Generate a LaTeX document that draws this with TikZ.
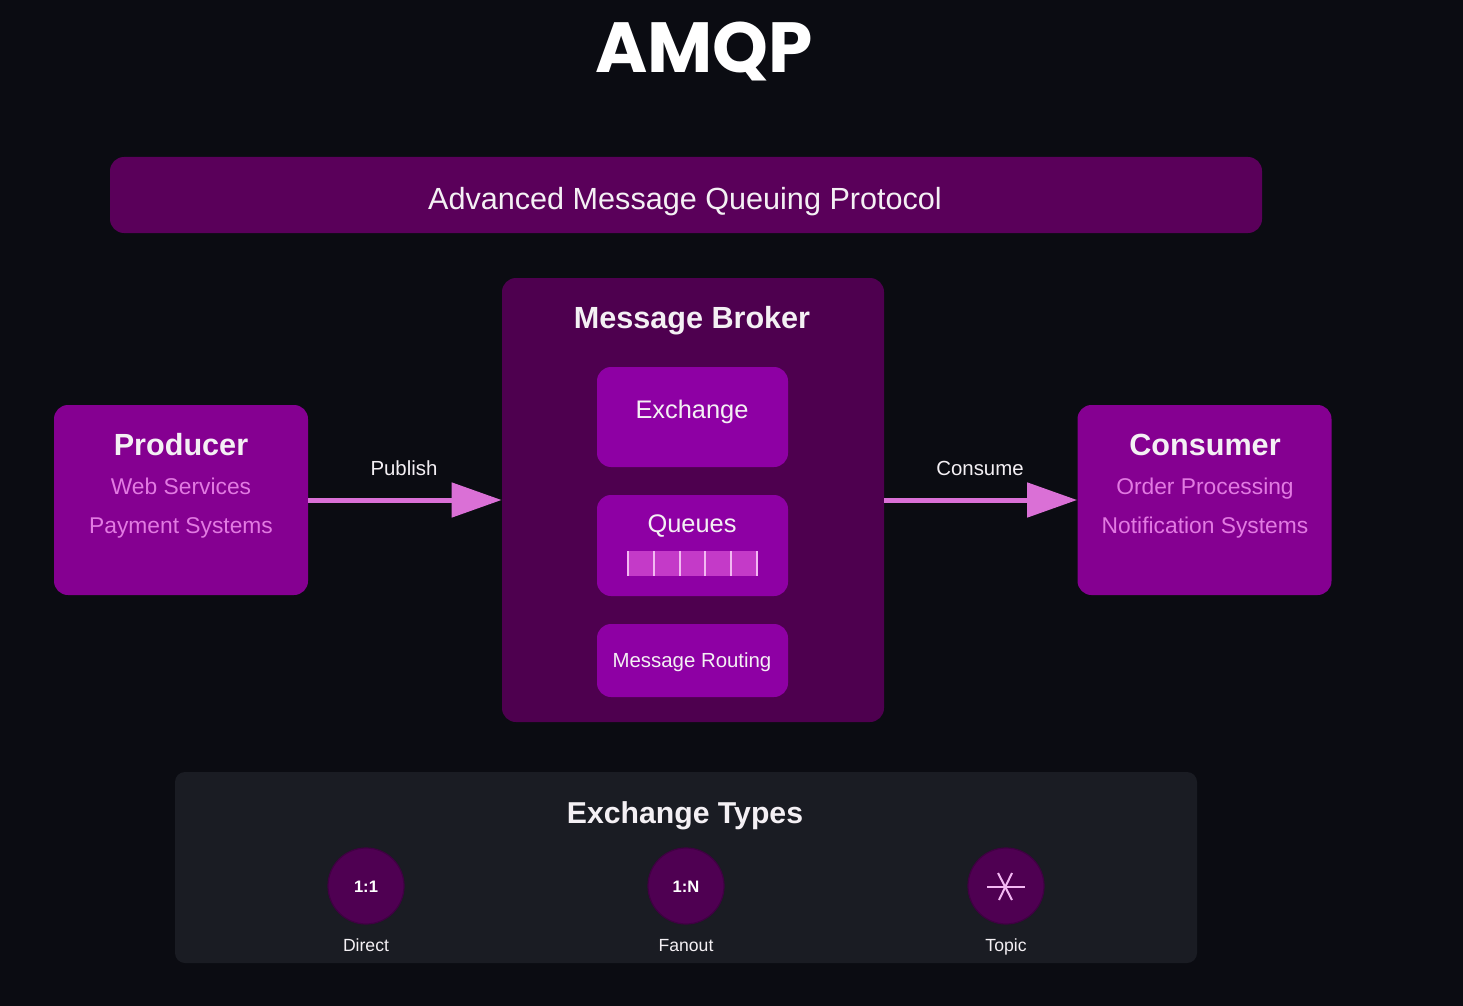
\documentclass[tikz,border=0pt]{standalone}
\usepackage{fontspec}
\setmainfont{Liberation Sans}
\newfontfamily\titlefont{Poppins}
\usetikzlibrary{arrows.meta}
\definecolor{bgc}{HTML}{0B0C12}
\definecolor{bannerc}{HTML}{5A005A}
\definecolor{brokerc}{HTML}{4E004F}
\definecolor{innerc}{HTML}{8E00A4}
\definecolor{endc}{HTML}{850091}
\definecolor{pinkc}{HTML}{E27AE2}
\definecolor{arrowc}{HTML}{DA70D6}
\definecolor{panelc}{HTML}{1A1C23}
\definecolor{circc}{HTML}{4F0052}
\definecolor{barc}{HTML}{C43AC8}
\definecolor{barl}{HTML}{F2B8F2}
\definecolor{txtc}{HTML}{F4F0F4}
\tikzset{
  box/.style={rectangle, rounded corners=7pt, inner sep=0pt},
  endbox/.style={box, fill=endc, minimum width=127pt, minimum height=95pt},
  innerbox/.style={box, fill=innerc, minimum width=95.5pt},
  lbl/.style={text=txtc, inner sep=0pt, anchor=base},
  sub/.style={text=pinkc, inner sep=0pt, anchor=base, font=\fontsize{11.4pt}{13pt}\selectfont},
  flow/.style={draw=arrowc, line width=2.5pt, -{Triangle[length=25pt,width=17pt]}},
  typecirc/.style={circle, fill=circc, draw=circc!80!black, line width=0.6pt, minimum size=38pt, inner sep=0pt},
}
\begin{document}
\begin{tikzpicture}[x=0.5pt,y=-0.5pt]
\fill[bgc] (0,0) rectangle (1463,1006);
\useasboundingbox (0,0) rectangle (1463,1006);

% title
\node[lbl, text=white, font=\titlefont\bfseries\fontsize{35.5pt}{38pt}\selectfont] (title) at (704,73) {AMQP};

% banner
\node[box, fill=bannerc, minimum width=576pt, minimum height=38pt] (banner) at (686,195) {};
\node[lbl, font=\fontsize{15.3pt}{18pt}\selectfont] (bannertxt) at (685,209) {Advanced Message Queuing Protocol};

% broker
\node[box, fill=brokerc, minimum width=191pt, minimum height=222pt] (broker) at (693,500) {};
\node[lbl, font=\bfseries\fontsize{15.3pt}{18pt}\selectfont] (brokertxt) at (692,328) {Message Broker};

\node[innerbox, minimum height=50pt] (exch) at (692.5,417) {};
\node[lbl, font=\fontsize{12.7pt}{15pt}\selectfont] (exchtxt) at (692,418) {Exchange};

\node[innerbox, minimum height=50.5pt] (queues) at (692.5,545.5) {};
\node[lbl, font=\fontsize{12.7pt}{15pt}\selectfont] (queuestxt) at (692,532) {Queues};
\fill[barc] (628,551) rectangle (757,576);
\foreach \x in {628,654,680,705,731,757}
  \draw[barl, line width=1pt] (\x,551) -- (\x,576);

\node[innerbox, minimum height=36.5pt] (routing) at (692.5,660.5) {};
\node[lbl, font=\fontsize{10.2pt}{12pt}\selectfont] (routingtxt) at (692,667) {Message Routing};

% producer
\node[endbox] (prod) at (181,500) {};
\node[lbl, font=\bfseries\fontsize{15.3pt}{18pt}\selectfont] (prodtxt) at (181,455) {Producer};
\node[sub] (prod1) at (181,494) {Web Services};
\node[sub] (prod2) at (181,533) {Payment Systems};

% consumer
\node[endbox] (cons) at (1204.5,500) {};
\node[lbl, font=\bfseries\fontsize{15.3pt}{18pt}\selectfont] (constxt) at (1205,455) {Consumer};
\node[sub] (cons1) at (1205,494) {Order Processing};
\node[sub] (cons2) at (1205,533) {Notification Systems};

% arrows
\draw[flow] (prod.east) -- (broker.west);
\draw[flow] (broker.east) -- (cons.west);
\node[lbl, font=\fontsize{10.2pt}{12pt}\selectfont] (pub) at (404,475) {Publish};
\node[lbl, font=\fontsize{10.2pt}{12pt}\selectfont] (con) at (980,475) {Consume};

% exchange types
\node[box, rounded corners=5pt, fill=panelc, minimum width=511pt, minimum height=95.5pt] (panel) at (686,867.5) {};
\node[lbl, font=\bfseries\fontsize{15.1pt}{18pt}\selectfont] (paneltxt) at (685,823) {Exchange Types};

\node[typecirc] (direct) at (366,886) {};
\node[typecirc] (fanout) at (686,886) {};
\node[typecirc] (topic) at (1006,886) {};
\node[lbl, text=white, font=\bfseries\fontsize{8.3pt}{10pt}\selectfont] (d1) at (366,892) {1:1};
\node[lbl, text=white, font=\bfseries\fontsize{8.3pt}{10pt}\selectfont] (f1) at (686,892) {1:N};
\draw[barl, line width=1pt] (987,887) -- (1025,887);
\draw[barl, line width=1pt] (998,873) -- (1012,900);
\draw[barl, line width=1pt] (1012,873) -- (999,900);
\node[lbl, font=\fontsize{8.8pt}{10pt}\selectfont] (d2) at (366,951) {Direct};
\node[lbl, font=\fontsize{8.8pt}{10pt}\selectfont] (f2) at (686,951) {Fanout};
\node[lbl, font=\fontsize{8.8pt}{10pt}\selectfont] (t2) at (1006,951) {Topic};
\end{tikzpicture}
\end{document}
